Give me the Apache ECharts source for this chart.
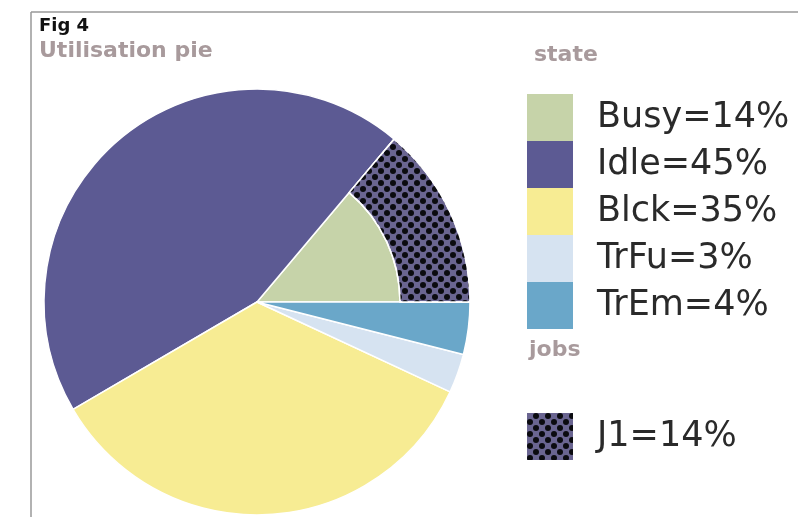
<!DOCTYPE html>
<html>
<head>
<meta charset="utf-8">
<script src="https://cdn.jsdelivr.net/npm/echarts@6/dist/echarts.min.js"></script>
<style>
  html, body { margin: 0; padding: 0; background: #fff; }
  #chart { width: 798px; height: 517px; }
</style>
</head>
<body>
<div id="chart"></div>
<script>
// state slices, counter-clockwise from 3 o'clock
const stateNames = ['Busy', 'Idle', 'Blck', 'TrFu', 'TrEm'];
const stateValues = [14, 45, 35, 3, 4];
const stateColors = ['#c6d3a9', '#5c5a93', '#f7ec93', '#d6e3f1', '#6aa7c9'];

// jobs ring (sits on the Busy slice)
const jobNames = ['J1'];
const jobValues = [14];

let chartDom = document.getElementById('chart');
let myChart = echarts.init(chartDom);
let option;

const total = stateValues.reduce((a, b) => a + b, 0);

const stateData = stateNames.map((n, i) => ({
    name: n,
    value: stateValues[i],
    itemStyle: { color: stateColors[i] }
}));

const jobsTotal = jobValues.reduce((a, b) => a + b, 0);
const jobData = jobNames.map((n, i) => ({
    name: n,
    value: jobValues[i],
    itemStyle: {
        color: '#6a6591',
        borderColor: '#fff',
        borderWidth: 1.5,
        decal: {
            symbol: 'circle',
            symbolSize: 1,
            color: '#0b0b10',
            dashArrayX: [[6, 6], [0, 6, 6, 0]],
            dashArrayY: [6, 0],
            rotation: 0
        }
    }
}));
// rest of the ring is empty, scaled to the state total so J1 matches Busy
jobData.push({
    name: '',
    value: total - jobsTotal,
    itemStyle: { color: 'transparent', borderWidth: 0 },
    emphasis: { disabled: true }
});

function lookup(name) {
    let i = stateNames.indexOf(name);
    if (i >= 0) return stateValues[i];
    i = jobNames.indexOf(name);
    return i >= 0 ? jobValues[i] : '';
}

const legendText = { fontFamily: 'DejaVu Sans', fontSize: 35, color: '#2a2a2a', padding: [0, 0, 0, 19] };
const headStyle = { fontFamily: 'DejaVu Sans', fontWeight: 'bold', fontSize: 22, color: '#a89a9c' };

option = {
    backgroundColor: '#fff',
    animation: false,
    title: [
        {
            text: 'Fig 4',
            left: 34, top: 12,
            textStyle: { fontFamily: 'DejaVu Sans', fontWeight: 'bold', fontSize: 18, color: '#111' }
        },
        { text: 'Utilisation pie', left: 34, top: 35, textStyle: headStyle },
        { text: 'state', left: 529, top: 39, textStyle: headStyle },
        { text: 'jobs', left: 524, top: 334, textStyle: headStyle }
    ],
    graphic: [
        { type: 'line', shape: { x1: 31, y1: 12, x2: 798, y2: 12 }, style: { stroke: '#999', lineWidth: 1.5 } },
        { type: 'line', shape: { x1: 31, y1: 12, x2: 31, y2: 517 }, style: { stroke: '#999', lineWidth: 1.5 } }
    ],
    legend: [
        {
            data: stateNames,
            orient: 'vertical',
            left: 522, top: 89,
            icon: 'rect',
            itemWidth: 46, itemHeight: 47, itemGap: 0,
            itemStyle: { borderWidth: 0 },
            selectedMode: false,
            formatter: (name) => name + '=' + lookup(name) + '%',
            textStyle: legendText
        },
        {
            data: jobNames,
            orient: 'vertical',
            left: 522, top: 408,
            icon: 'rect',
            itemWidth: 46, itemHeight: 47,
            itemStyle: { borderWidth: 0 },
            selectedMode: false,
            formatter: (name) => name + '=' + lookup(name) + '%',
            textStyle: legendText
        }
    ],
    series: [
        {
            name: 'state',
            type: 'pie',
            center: [257, 302],
            radius: [0, 213],
            startAngle: 0,
            clockwise: false,
            label: { show: false },
            labelLine: { show: false },
            itemStyle: { borderColor: '#fff', borderWidth: 1.5 },
            data: stateData
        },
        {
            name: 'jobs',
            type: 'pie',
            center: [257, 302],
            radius: [143, 213],
            startAngle: 0,
            clockwise: false,
            z: 3,
            label: { show: false },
            labelLine: { show: false },
            data: jobData
        }
    ]
};

option && myChart.setOption(option);
</script>
</body>
</html>
